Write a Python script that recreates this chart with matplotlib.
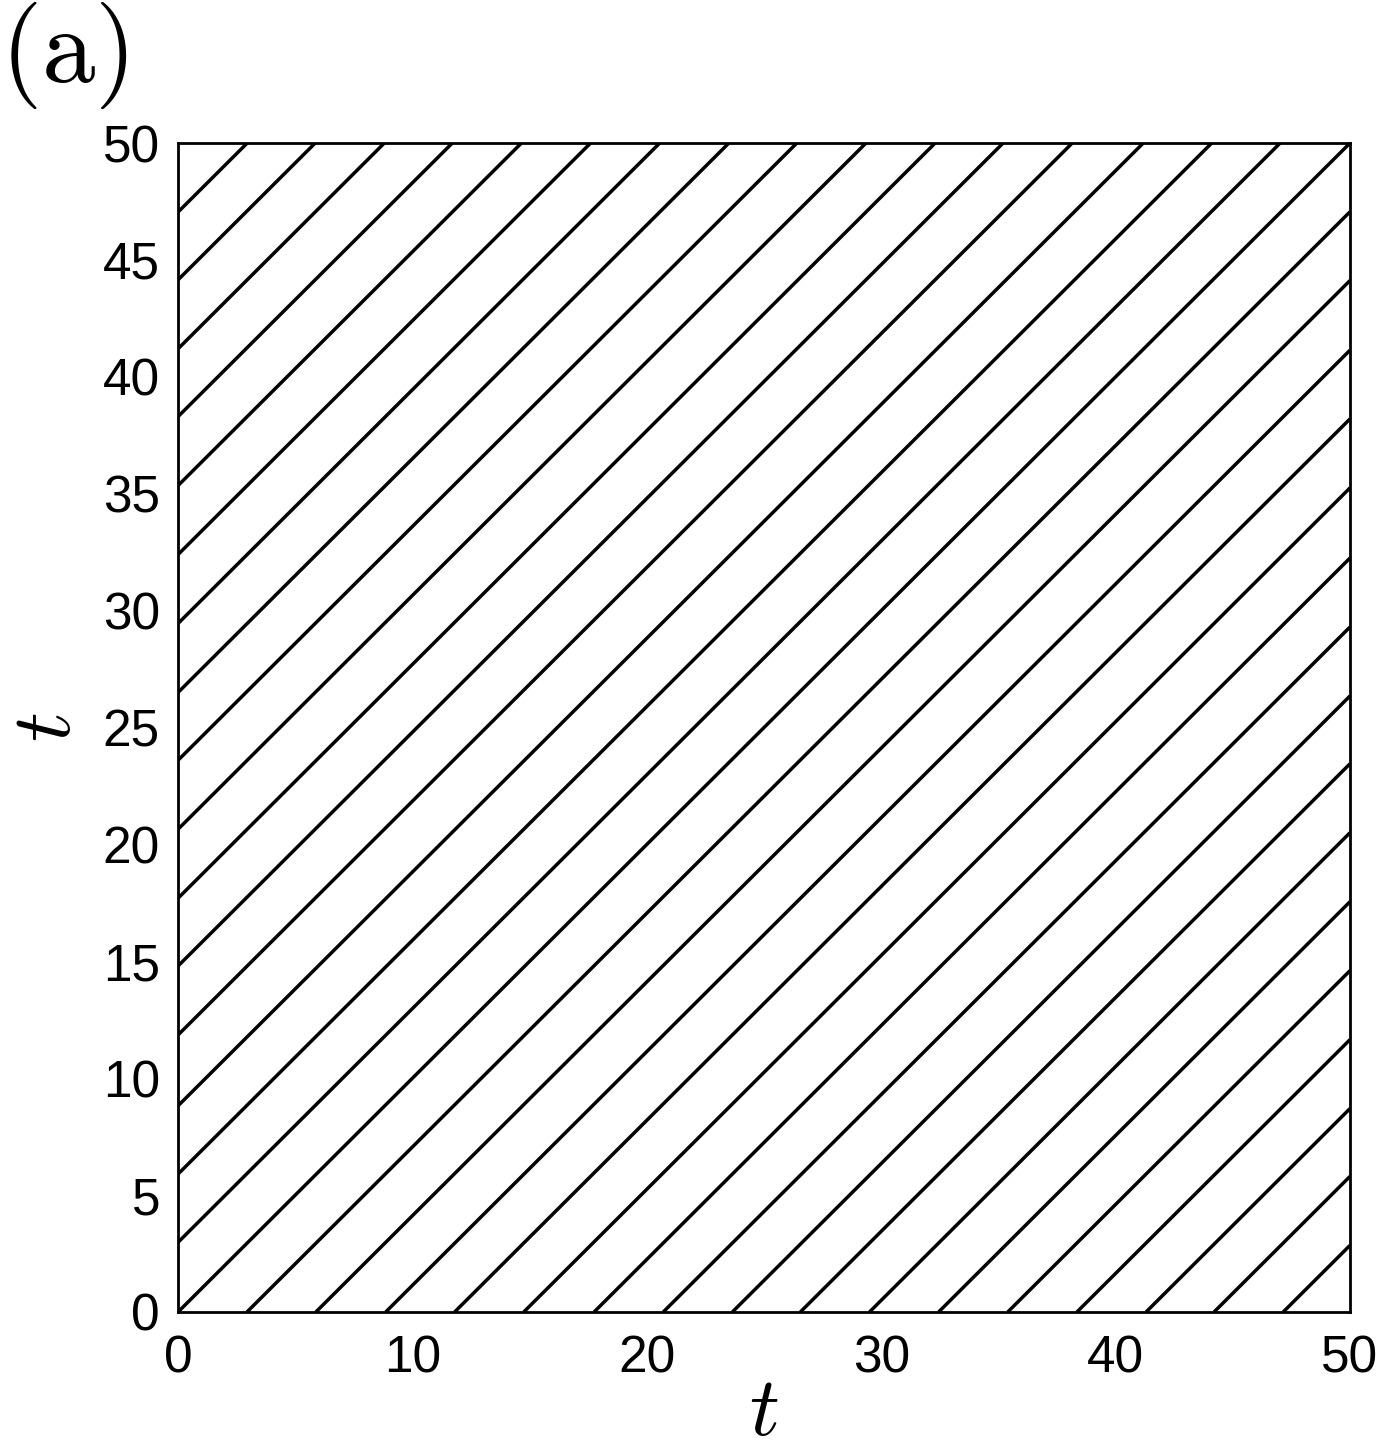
import matplotlib
matplotlib.use("Agg")
import matplotlib.pyplot as plt
import numpy as np

# diagonal recurrence lines: y = x + offset
# offsets read off where lines meet the bottom edge (negative) and left edge (positive)
bottom_starts = [0.0, 2.94, 5.88, 8.86, 11.8, 14.75, 17.75, 20.7, 23.65, 26.55,
                 29.5, 32.45, 35.4, 38.35, 41.3, 44.2, 47.15]
left_starts = [2.98, 5.9, 8.82, 11.85, 14.8, 17.7, 20.65, 23.6, 26.5, 29.45,
               32.4, 35.35, 38.3, 41.2, 44.15, 47.05]

x_ticks = [0, 10, 20, 30, 40, 50]
y_ticks = [0, 5, 10, 15, 20, 25, 30, 35, 40, 45, 50]
t_max = 50

plt.rcParams['mathtext.fontset'] = 'cm'

fig = plt.figure(figsize=(13.76, 14.51), dpi=100)
ax = fig.add_axes([0.1294, 0.0958, 0.8517, 0.8056])

offsets = [-b for b in bottom_starts] + list(left_starts)
for off in offsets:
    x0 = max(0, -off)
    x1 = min(t_max, t_max - off)
    ax.plot([x0, x1], [x0 + off, x1 + off], color='black', lw=2.5,
            solid_capstyle='butt')

ax.set_xlim(0, t_max)
ax.set_ylim(0, t_max)
ax.set_xticks(x_ticks)
ax.set_yticks(y_ticks)
ax.tick_params(length=0, labelsize=37)
ax.tick_params(axis='x', pad=16)
ax.tick_params(axis='y', pad=13)
for lab in ax.get_xticklabels() + ax.get_yticklabels():
    lab.set_family('Liberation Sans')
for s in ax.spines.values():
    s.set_linewidth(2)

ax.set_xlabel(r'$t$', fontsize=60, labelpad=-9)
ax.set_ylabel(r'$t$', fontsize=60, rotation=90, labelpad=11)

fig.text(0.0, 1.0, r'$\mathrm{(a)}$', fontsize=77, ha='left', va='top')

fig.savefig('out.png', dpi=100)
